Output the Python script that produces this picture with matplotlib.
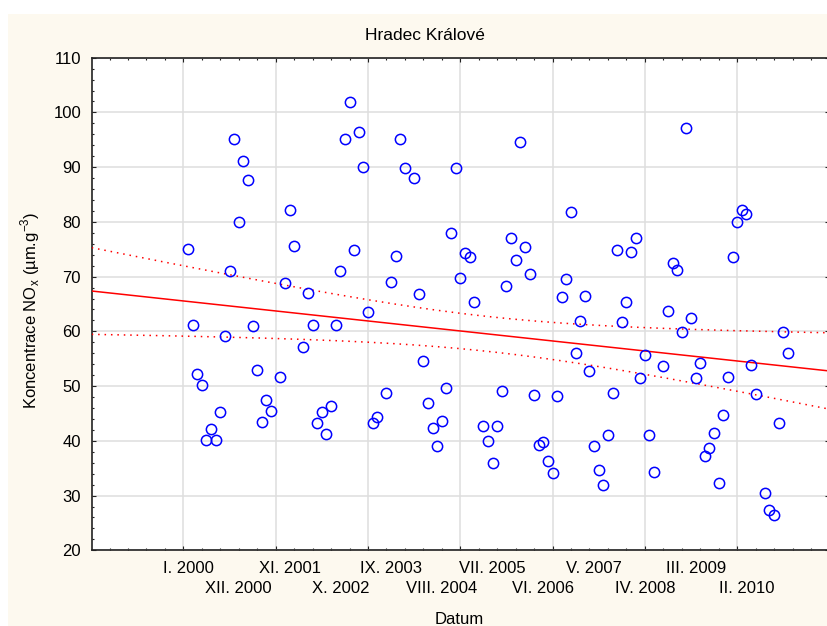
import numpy as np
import matplotlib
matplotlib.use("Agg")
import matplotlib.pyplot as plt
import matplotlib.patches as patches
from matplotlib.ticker import FixedLocator, MultipleLocator, NullFormatter

plt.rcParams['font.family'] = ['Liberation Sans', 'DejaVu Sans']

# month index, 0 = I. 2000
months = ([m for m in range(0, 19)] + [m for m in range(20, 24)] +
          [m for m in range(25, 42)] + [m for m in range(43, 48)] +
          [m for m in range(49, 63)] + [m for m in range(64, 102)] +
          [m for m in range(103, 124)] + [m for m in range(125, 131)])

nox = [75.1, 61.1, 52.2, 50.2, 40.2, 42.2, 40.2, 45.3, 59.1, 71.1, 95.1, 80.0,
       91.1, 87.6, 61.0, 53.0, 43.5, 47.5, 45.4,
       51.6, 68.9, 82.1, 75.6,
       57.2, 67.1, 61.1, 43.3, 45.3, 41.3, 46.3, 61.1, 71.1, 95.1, 101.9, 74.9,
       96.5, 90.1, 63.6, 43.3, 44.3,
       48.8, 69.1, 73.7, 95.1, 89.8,
       88.1, 66.9, 54.5, 47.0, 42.4, 39.0, 43.6, 49.7, 77.9, 89.9, 69.7, 74.3,
       73.6, 65.4,
       42.8, 40.0, 36.0, 42.8, 49.1, 68.2, 77.1, 73.0, 94.6, 75.5, 70.5, 48.4,
       39.2, 39.8, 36.4, 34.1, 48.1, 66.2, 69.6, 81.9, 56.0, 61.9, 66.5, 52.7,
       39.0, 34.6, 31.9, 41.1, 48.8, 74.9, 61.8, 65.3, 74.5, 77.1, 51.5, 55.7,
       41.1, 34.3,
       53.7, 63.7, 72.4, 71.3, 59.9, 97.1, 62.4, 51.5, 54.3, 37.2, 38.6, 41.4,
       32.3, 44.8, 51.6, 73.5, 80.0, 82.2, 81.5, 53.9, 48.5,
       30.4, 27.3, 26.4, 43.3, 59.8, 56.0]

label_months = [0, 11, 22, 33, 44, 55, 66, 77, 88, 99, 110, 121]
label_text = ['I. 2000', 'XII. 2000', 'XI. 2001', 'X. 2002', 'IX. 2003',
              'VIII. 2004', 'VII. 2005', 'VI. 2006', 'V. 2007', 'IV. 2008',
              'III. 2009', 'II. 2010']

x = np.array(months, dtype=float)
y = np.array(nox)

W, H = 828, 626
fig = plt.figure(figsize=(W / 100, H / 100), dpi=100, facecolor='white')
fig.add_artist(patches.Rectangle((8 / W, 0), 1, 1 - 14 / H, transform=fig.transFigure,
                                 facecolor='#fdf9ef', edgecolor='none', zorder=0))

left, right, top, bottom = 91.7, 829.0, 57.7, 550.3
ax = fig.add_axes([left / W, 1 - bottom / H, (right - left) / W, (bottom - top) / H])
ax.set_facecolor('white')

ax.set_xlim(-20.87, 138.9)
ax.set_ylim(20, 110)

# linear fit + 95% confidence band for the mean
n = len(x)
b, a = np.polyfit(x, y, 1)
resid = y - (a + b * x)
s = np.sqrt(np.sum(resid ** 2) / (n - 2))
sxx = np.sum((x - x.mean()) ** 2)
t = 1.98
xx = np.linspace(-20.87, 138.9, 200)
fit = a + b * xx
half = t * s * np.sqrt(1.0 / n + (xx - x.mean()) ** 2 / sxx)

ax.plot(xx, fit, color='#ff0000', lw=1.1, zorder=3)
ax.plot(xx, fit + half, color='#ff0000', lw=1.1, ls=(0, (1.0, 3.2)), zorder=3)
ax.plot(xx, fit - half, color='#ff0000', lw=1.1, ls=(0, (1.0, 3.2)), zorder=3)

ax.plot(x, y, 'o', ms=7.4, mfc='none', mec='#0000ff', mew=1.1, zorder=4)

# grid / ticks
ax.xaxis.set_major_locator(FixedLocator(np.arange(-1, 139, 20)))
ax.xaxis.set_minor_locator(FixedLocator(np.arange(-17, 139, 4)))
ax.xaxis.set_major_formatter(NullFormatter())
ax.yaxis.set_major_locator(MultipleLocator(10))
ax.yaxis.set_minor_locator(MultipleLocator(2))
ax.grid(True, which='major', color='#dedede', lw=1.1, zorder=0)
ax.set_axisbelow(True)

ax.tick_params(which='both', direction='in', top=True, right=True,
               colors='#222222', width=0.8)
ax.tick_params(which='major', length=2.6)
ax.tick_params(which='minor', length=1.6)
ax.tick_params(axis='y', which='both', right=True)
ax.tick_params(axis='y', which='major', labelsize=12, pad=7.7, labelcolor='black')
for sp in ax.spines.values():
    sp.set_linewidth(1.2)
    sp.set_color('#222222')
ax.spines['right'].set_visible(False)

sec1 = ax.secondary_xaxis('bottom')
sec1.set_xticks(label_months[0::2], label_text[0::2])
sec2 = ax.secondary_xaxis('bottom')
sec2.set_xticks(label_months[1::2], label_text[1::2])
for sec, pad in ((sec1, 7.6), (sec2, 22.0)):
    sec.tick_params(length=0, labelsize=12, pad=pad)
    sec.spines['bottom'].set_visible(False)

fig.text(425 / W, 1 - 36 / H, 'Hradec Králové', ha='center', va='center', fontsize=12.5)
fig.text(459 / W, 1 - 620 / H, 'Datum', ha='center', va='center', fontsize=12)
fig.text(36 / W, 1 - 310 / H, r'Koncentrace NO$_\mathregular{x}$ (µm.g$^\mathregular{-3}$)',
         rotation=90, rotation_mode='anchor', ha='center', va='baseline', fontsize=12)

fig.savefig('out.png', dpi=100, facecolor=fig.get_facecolor())
